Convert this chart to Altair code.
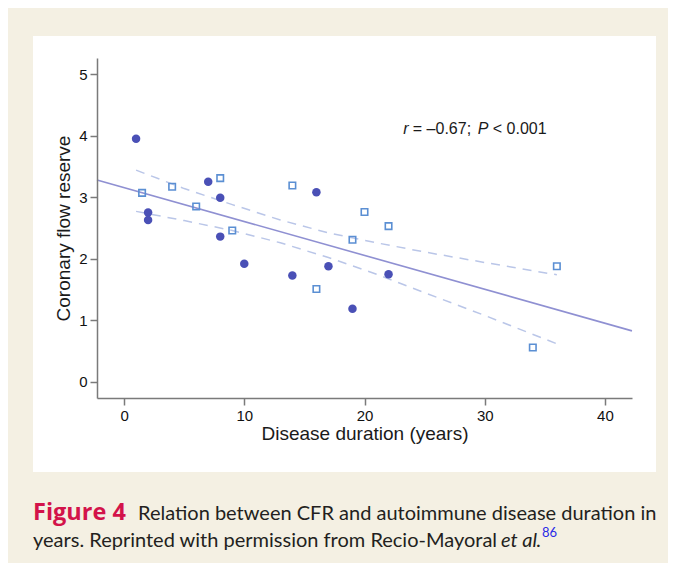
import altair as alt
import pandas as pd

# ---- data ----
circle_x = [1, 2, 2, 7, 8, 8, 10, 14, 16, 17, 19, 22]
circle_y = [3.95, 2.75, 2.63, 3.25, 2.99, 2.36, 1.92, 1.73, 3.08, 1.88, 1.19, 1.75]
square_x = [1.5, 4, 6, 8, 9, 14, 16, 19, 20, 22, 34, 36]
square_y = [3.07, 3.17, 2.85, 3.31, 2.46, 3.19, 1.51, 2.31, 2.76, 2.53, 0.56, 1.88]
fit_x = [-2.25, 42.25]
fit_y = [3.28, 0.83]
band_x = [1, 5, 9, 13, 17, 21, 25, 30, 36]
band_upper = [3.44, 3.14, 2.88, 2.63, 2.42, 2.26, 2.11, 1.94, 1.74]
band_lower = [2.77, 2.62, 2.46, 2.26, 2.02, 1.75, 1.45, 1.08, 0.62]
x_ticks = [0, 10, 20, 30, 40]
y_ticks = [0, 1, 2, 3, 4, 5]
ann_plain_text = ["= \u20130.67;", "< 0.001"]
ann_plain_x = [24.02, 30.67]
ann_italic_text = ["r", "P"]
ann_italic_x = [23.22, 29.43]
ann_y = 4.02

FONT = "Liberation Sans"
CAP_FONT = "Lato"

circles = pd.DataFrame({"x": circle_x, "y": circle_y})
squares = pd.DataFrame({"x": square_x, "y": square_y})
fit = pd.DataFrame({"x": fit_x, "y": fit_y})
upper = pd.DataFrame({"x": band_x, "y": band_upper})
lower = pd.DataFrame({"x": band_x, "y": band_lower})
ann_plain = pd.DataFrame({"x": ann_plain_x, "y": [ann_y] * len(ann_plain_x), "t": ann_plain_text})
ann_italic = pd.DataFrame({"x": ann_italic_x, "y": [ann_y] * len(ann_italic_x), "t": ann_italic_text})
one = pd.DataFrame({"a": [0]})

axis_common = dict(
    grid=False, domainColor="#7a7a7a", domainWidth=1.5, tickColor="#7a7a7a",
    tickWidth=1.5, tickSize=7, labelFont=FONT, labelFontSize=15, labelColor="#111111",
    titleFont=FONT, titleFontSize=19, titleFontWeight="normal", titleColor="#1a1a1a",
    zindex=1,
)
xaxis = alt.Axis(values=x_ticks, title="Disease duration (years)", labelPadding=3,
                 titlePadding=1, **axis_common)
yaxis = alt.Axis(values=y_ticks, title="Coronary flow reserve", labelPadding=3,
                 titlePadding=5, **axis_common)
xs = alt.Scale(domain=[-2.25, 42.25], nice=False, zero=False)
ys = alt.Scale(domain=[-0.26, 5.26], nice=False, zero=False)
X = alt.X("x:Q", scale=xs, axis=xaxis)
Y = alt.Y("y:Q", scale=ys, axis=yaxis)

panel = alt.Chart(one).mark_rect(color="white").encode(
    x=alt.value(-64), x2=alt.value(559), y=alt.value(-22), y2=alt.value(414)
)

band_u = alt.Chart(upper).mark_line(color="#bac6e8", strokeWidth=1.5, strokeDash=[9, 7]).encode(x=X, y=Y)
band_l = alt.Chart(lower).mark_line(color="#bac6e8", strokeWidth=1.5, strokeDash=[9, 7]).encode(x=X, y=Y)
fit_line = alt.Chart(fit).mark_line(color="#8f90d2", strokeWidth=1.6).encode(x=X, y=Y)
sq = alt.Chart(squares).mark_point(shape="square", filled=False, color="#5b8fd3",
                                    strokeWidth=1.6, size=42, opacity=1).encode(x=X, y=Y)
ci = alt.Chart(circles).mark_circle(color="#4a50b6", size=72, opacity=1).encode(x=X, y=Y)

ann1 = alt.Chart(ann_plain).mark_text(font=FONT, fontSize=16, align="left", baseline="alphabetic",
                                      color="#1a1a1a").encode(x=X, y=Y, text="t:N")
ann2 = alt.Chart(ann_italic).mark_text(font=FONT, fontSize=16, fontStyle="italic", align="left",
                                       baseline="alphabetic", color="#1a1a1a").encode(x=X, y=Y, text="t:N")


def cap(text, px, py, **kw):
    style = dict(font=CAP_FONT, fontSize=20, align="left", baseline="alphabetic", color="#231f20")
    style.update(kw)
    return alt.Chart(one).mark_text(text=text, **style).encode(x=alt.value(px - 97), y=alt.value(py - 58))


caption = [
    cap("Figure 4", 33, 520, font="Open Sans", fontSize=23.5, fontWeight="bold", color="#d3134a"),
    cap("Relation between CFR and autoimmune disease duration in", 138, 520),
    cap("years. Reprinted with permission from Recio-Mayoral", 33, 547),
    cap("et al", 501, 547, fontStyle="italic"),
    cap(".", 536, 547),
    cap("86", 542, 537, fontSize=13, color="#2a2ae6"),
]

chart = alt.layer(panel, band_u, band_l, fit_line, sq, ci, ann1, ann2, *caption).properties(
    width=535, height=340,
    autosize=alt.AutoSizeParams(type="none"),
    padding={"left": 89, "top": 50, "right": 36, "bottom": 165},
    background="#f4f0e3",
).configure_view(strokeWidth=0)

chart.save("out.html", embed_options={"renderer": "svg", "actions": False})
